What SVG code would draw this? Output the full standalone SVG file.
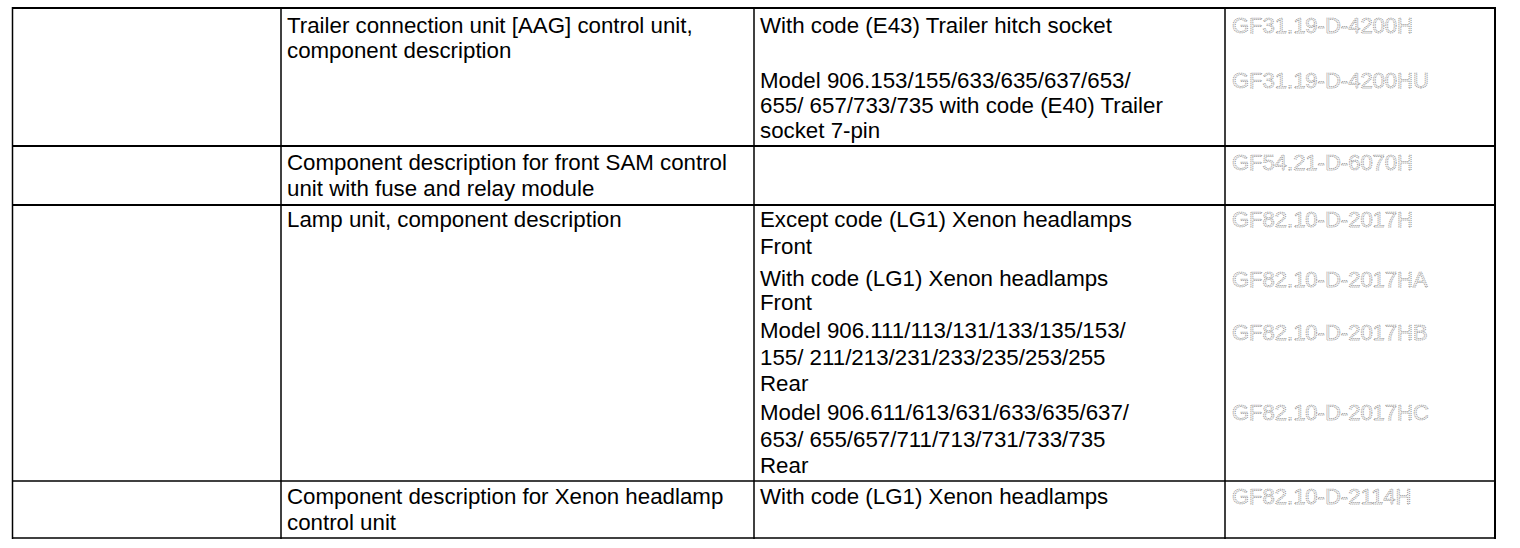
<svg xmlns="http://www.w3.org/2000/svg" width="1520" height="548" viewBox="0 0 1520 548">
<style>
.t{font-family:"Liberation Sans",Arial,sans-serif;font-size:22.3px;fill:#000}
.g{font-family:"Liberation Sans",Arial,sans-serif;font-size:22px;fill:#f2f2f2;stroke:#858585;stroke-width:0.75;stroke-dasharray:1 1}
.ln{stroke:#000;stroke-width:2;fill:none}
.lt{stroke:#000;stroke-width:1.5;fill:none}
</style>
<rect width="1520" height="548" fill="#fff"/>
<g id="grid">
<line class="ln" x1="12" y1="8" x2="1496" y2="8"/>
<line class="ln" x1="12" y1="146" x2="1496" y2="146"/>
<line class="ln" x1="12" y1="205" x2="1496" y2="205"/>
<line class="lt" x1="12" y1="481" x2="1496" y2="481"/>
<line class="lt" x1="12" y1="538" x2="1496" y2="538"/>
<line class="lt" x1="12.5" y1="7" x2="12.5" y2="539"/>
<line class="lt" x1="281" y1="7" x2="281" y2="539"/>
<line class="lt" x1="754" y1="7" x2="754" y2="539"/>
<line class="lt" x1="1225" y1="7" x2="1225" y2="539"/>
<line class="ln" x1="1495" y1="7" x2="1495" y2="539"/>
</g>
<g id="row1">
<text class="t" x="287" y="33">Trailer connection unit [AAG] control unit,</text>
<text class="t" x="287" y="58">component description</text>
<text class="t" x="760" y="33">With code (E43) Trailer hitch socket</text>
<text class="t" x="760" y="88">Model 906.153/155/633/635/637/653/</text>
<text class="t" x="760" y="113">655/ 657/733/735 with code (E40) Trailer</text>
<text class="t" x="760" y="138">socket 7-pin</text>
<text class="g" x="1232" y="33">GF31.19-D-4200H</text>
<text class="g" x="1232" y="88">GF31.19-D-4200HU</text>
</g>
<g id="row2">
<text class="t" x="287" y="170">Component description for front SAM control</text>
<text class="t" x="287" y="196">unit with fuse and relay module</text>
<text class="g" x="1232" y="170">GF54.21-D-6070H</text>
</g>
<g id="row3">
<text class="t" x="287" y="227">Lamp unit, component description</text>
<text class="t" x="760" y="227">Except code (LG1) Xenon headlamps</text>
<text class="t" x="760" y="254">Front</text>
<text class="t" x="760" y="286">With code (LG1) Xenon headlamps</text>
<text class="t" x="760" y="310">Front</text>
<text class="t" x="760" y="338">Model 906.111/113/131/133/135/153/</text>
<text class="t" x="760" y="365">155/ 211/213/231/233/235/253/255</text>
<text class="t" x="760" y="391">Rear</text>
<text class="t" x="760" y="420">Model 906.611/613/631/633/635/637/</text>
<text class="t" x="760" y="447">653/ 655/657/711/713/731/733/735</text>
<text class="t" x="760" y="473">Rear</text>
<text class="g" x="1232" y="227">GF82.10-D-2017H</text>
<text class="g" x="1232" y="287">GF82.10-D-2017HA</text>
<text class="g" x="1232" y="340">GF82.10-D-2017HB</text>
<text class="g" x="1232" y="420">GF82.10-D-2017HC</text>
</g>
<g id="row4">
<text class="t" x="287" y="504">Component description for Xenon headlamp</text>
<text class="t" x="287" y="530">control unit</text>
<text class="t" x="760" y="504">With code (LG1) Xenon headlamps</text>
<text class="g" x="1232" y="504">GF82.10-D-2114H</text>
</g>
</svg>
